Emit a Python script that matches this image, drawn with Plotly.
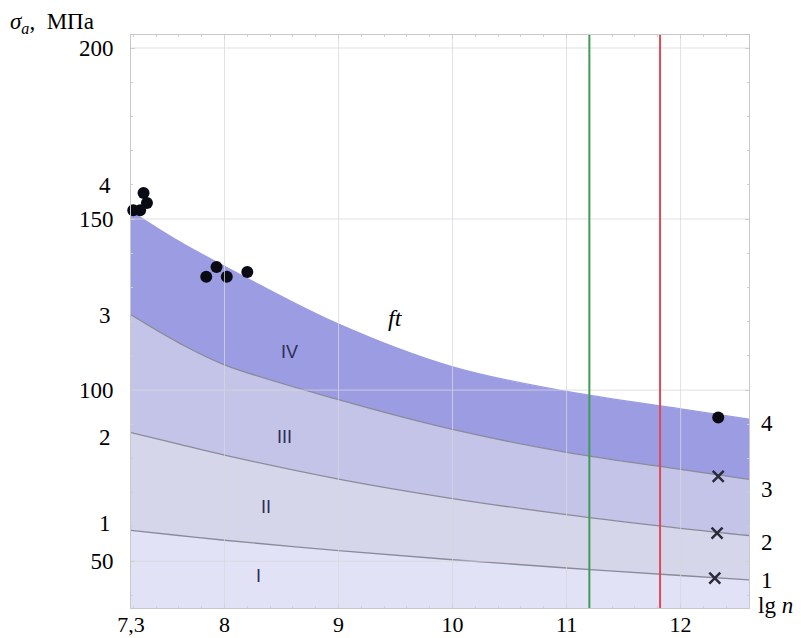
import plotly.graph_objects as go

# ---- data ----
lgn = [7.18, 7.6, 8.0, 9.0, 10.0, 11.0, 12.0, 12.6]
curve1 = [59.0, 57.5, 56.1, 53.1, 50.4, 48.0, 45.8, 44.5]
curve2 = [87.6, 84.2, 81.0, 74.0, 68.3, 63.6, 59.6, 57.5]
curve3 = [122.0, 113.8, 107.4, 97.2, 88.5, 81.8, 76.8, 73.9]
curve4 = [152.3, 143.5, 136.2, 119.3, 106.8, 99.6, 94.5, 91.5]

dots_x = [7.175, 7.29, 7.32, 7.20, 7.26, 7.84, 7.93, 8.02, 8.20, 12.33]
dots_y = [159.6, 157.6, 154.7, 152.6, 152.6, 133.1, 136.0, 133.1, 134.5, 92.0]
cross_x = [7.17, 12.33, 12.32, 12.30]
cross_y = [155.2, 74.8, 58.2, 45.0]

green_x = 11.2
red_x = 11.82

x_ticks = [7.18, 8, 9, 10, 11, 12]
x_ticktext = ["7,3", "8", "9", "10", "11", "12"]
y_ticks = [50, 100, 150, 200]

zone_labels = ["I", "II", "III", "IV"]
zone_x = [8.3, 8.36, 8.53, 8.57]
zone_y = [45.6, 65.7, 86.4, 111.2]

left_lbl = ["4", "3", "2", "1"]
left_lbl_y = [159.9, 121.7, 86.2, 61.1]
right_lbl = ["4", "3", "2", "1"]
right_lbl_y = [90.2, 71.0, 55.5, 44.2]

x_range = [7.18, 12.6]
y_range = [36.3, 203.8]

band_colors = ["#e2e2f6", "#d6d6ea", "#c4c4e9", "#9c9ce3"]
serif = "Liberation Serif, Times New Roman, serif"
FS = 23

fig = go.Figure()
curves = [curve1, curve2, curve3, curve4]
for i, c in enumerate(curves):
    line_col = "#8a8a9a" if i < 3 else band_colors[3]
    fig.add_trace(go.Scatter(
        x=lgn, y=c, mode="lines",
        line=dict(color=line_col, width=1.3, shape="spline", smoothing=1.0),
        fill="tozeroy" if i == 0 else "tonexty", fillcolor=band_colors[i],
        hoverinfo="skip", showlegend=False))

# grid lines drawn over the fills
shapes = []
for xv in [8, 9, 10, 11, 12]:
    shapes.append(dict(type="line", xref="x", yref="paper", x0=xv, x1=xv, y0=0, y1=1,
                       line=dict(color="rgba(215,215,222,0.75)", width=1), layer="above"))
for yv in y_ticks:
    shapes.append(dict(type="line", xref="paper", yref="y", x0=0, x1=1, y0=yv, y1=yv,
                       line=dict(color="rgba(215,215,222,0.75)", width=1), layer="above"))
shapes.append(dict(type="line", xref="x", yref="paper", x0=green_x, x1=green_x, y0=0, y1=1,
                   line=dict(color="#3d9c55", width=2), layer="above"))
shapes.append(dict(type="line", xref="x", yref="paper", x0=red_x, x1=red_x, y0=0, y1=1,
                   line=dict(color="#dd4a55", width=2), layer="above"))
fig.update_layout(shapes=shapes)

fig.add_trace(go.Scatter(x=dots_x, y=dots_y, mode="markers",
                         marker=dict(color="#0a0a14", size=12, symbol="circle"),
                         cliponaxis=False, showlegend=False, hoverinfo="skip"))
fig.add_trace(go.Scatter(x=cross_x, y=cross_y, mode="markers",
                         marker=dict(color="#2a2a3a", size=11, symbol="x-thin",
                                     line=dict(color="#2a2a3a", width=2.5)),
                         cliponaxis=False, showlegend=False, hoverinfo="skip"))

ann = []
for t, xv, yv in zip(zone_labels, zone_x, zone_y):
    ann.append(dict(text=t, x=xv, y=yv, xref="x", yref="y", showarrow=False,
                    font=dict(family="Liberation Sans, Arial, sans-serif", size=18, color="#2c2c55")))
ann.append(dict(text="<i>ft</i>", x=9.5, y=121.1, xref="x", yref="y", showarrow=False,
                font=dict(family=serif, size=24, color="#000")))
for t, yv in zip(left_lbl, left_lbl_y):
    ann.append(dict(text=t, x=0.0, xshift=-26, y=yv, xref="paper", yref="y", showarrow=False,
                    xanchor="center", font=dict(family=serif, size=FS, color="#000")))
for t, yv in zip(right_lbl, right_lbl_y):
    ann.append(dict(text=t, x=1.0, xshift=18, y=yv, xref="paper", yref="y", showarrow=False,
                    xanchor="center", font=dict(family=serif, size=FS, color="#000")))
ann.append(dict(text="lg <i>n</i>", x=1.0, xshift=26, y=0.0, yshift=3, xref="paper", yref="paper",
                showarrow=False, xanchor="center", yanchor="middle",
                font=dict(family=serif, size=FS, color="#000")))
ann.append(dict(text="<i>σ</i><sub><i>a</i></sub>,  МПа", x=0.0, xshift=-123, y=1.0, yshift=12,
                xref="paper", yref="paper", xanchor="left", yanchor="middle", showarrow=False,
                font=dict(family=serif, size=FS, color="#000")))

# the page body adds an 8px offset; compensate so the plot area lands where it should
fig.update_layout(
    annotations=ann,
    width=793, height=630,
    margin=dict(l=123, r=52, t=27, b=30, autoexpand=False),
    paper_bgcolor="white", plot_bgcolor="white",
    xaxis=dict(range=x_range, tickvals=x_ticks, ticktext=x_ticktext, showgrid=False,
               zeroline=False, showline=True, linecolor="#c8c8c8", mirror="ticks",
               ticks="inside", ticklen=4, tickcolor="#c8c8c8", ticklabelstandoff=-3,
               tickfont=dict(family=serif, size=22, color="#000"),
               minor=dict(dtick=0.2, ticks="inside", ticklen=2, tickcolor="#d0d0d0")),
    yaxis=dict(range=y_range, tickvals=y_ticks, showgrid=False, zeroline=False,
               showline=True, linecolor="#c8c8c8", mirror="ticks",
               ticks="inside", ticklen=4, tickcolor="#c8c8c8", ticklabelstandoff=12,
               tickfont=dict(family=serif, size=FS, color="#000"),
               minor=dict(dtick=10, ticks="inside", ticklen=2, tickcolor="#d0d0d0")),
)

fig.write_html("out.html")
